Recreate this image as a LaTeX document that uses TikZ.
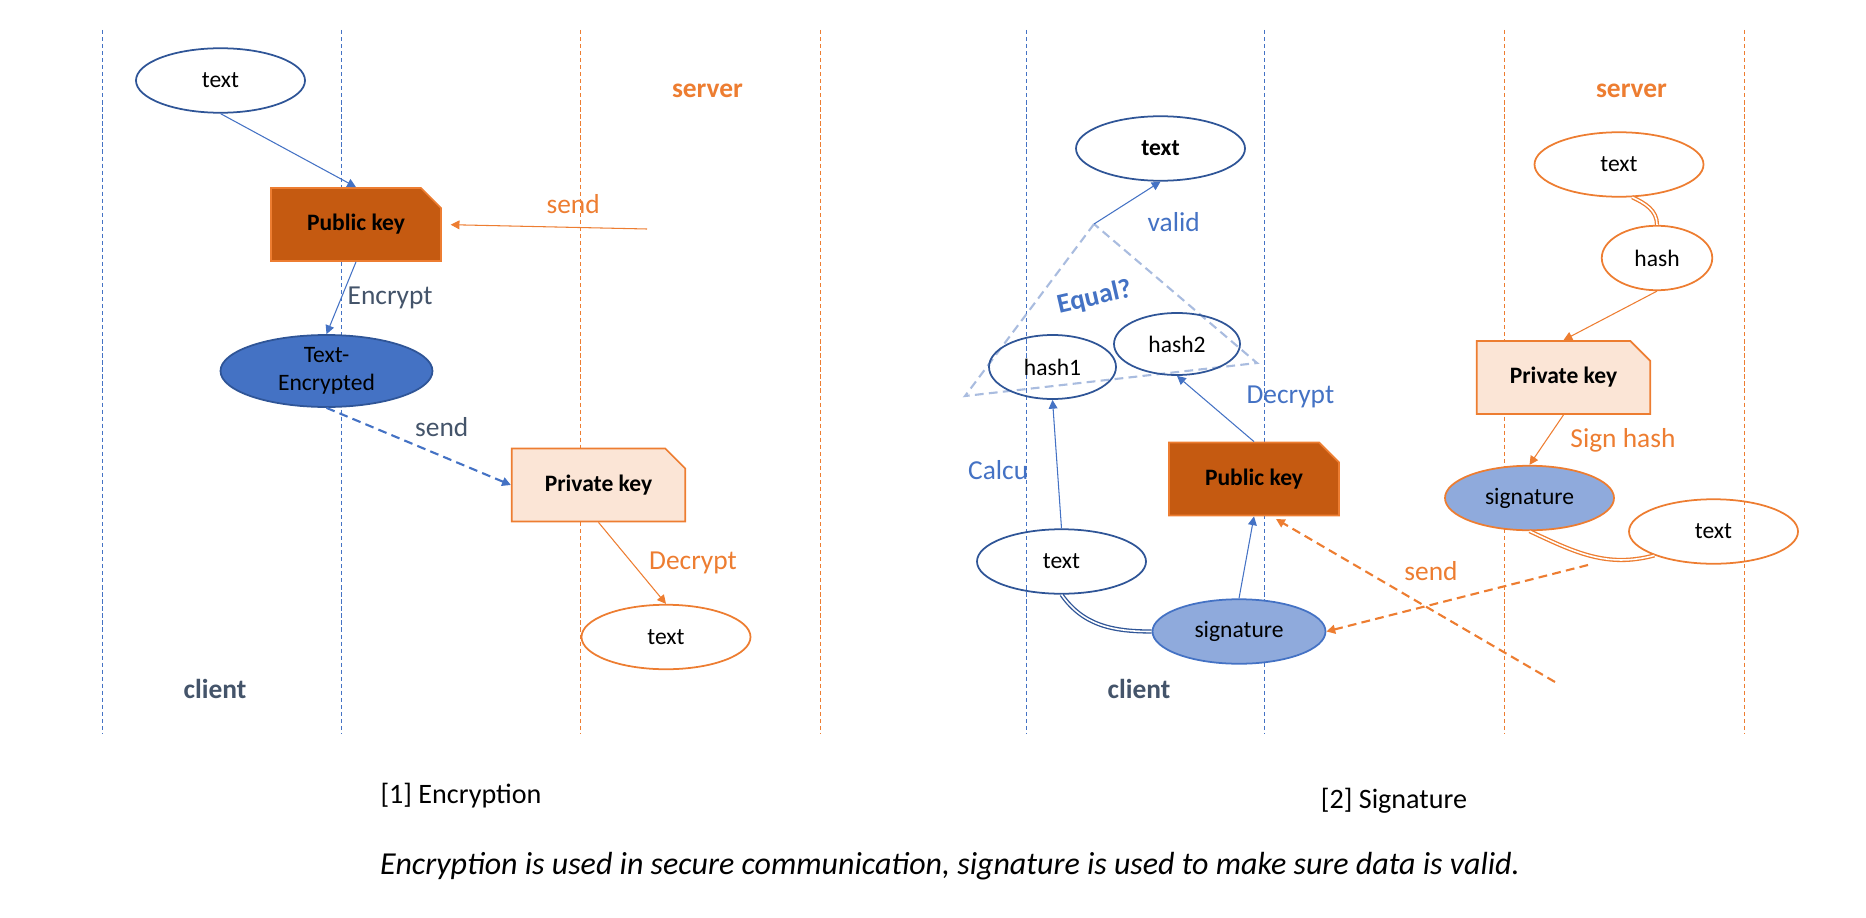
\documentclass[tikz,border=0pt]{standalone}
\usepackage{fontspec}
\setmainfont{Carlito}
\usetikzlibrary{arrows.meta,shapes.geometric,shapes.misc,positioning}

\definecolor{offblue}{HTML}{4472C4}
\definecolor{navy}{HTML}{2F5597}
\definecolor{offorange}{HTML}{ED7D31}
\definecolor{keybrown}{HTML}{C55A11}
\definecolor{peach}{HTML}{FBE5D6}
\definecolor{sigblue}{HTML}{8FAADC}
\definecolor{slate}{HTML}{44546A}
\definecolor{eqgrey}{HTML}{A9BCDF}

\newcommand\nodesize{\fontsize{13.4}{16}\selectfont}
\newcommand\lblsize{\fontsize{15.6}{18}\selectfont}

\tikzset{
  lane/.style={line width=0.5pt, dash pattern=on 2.4pt off 1.6pt},
  bub/.style={ellipse, draw=navy, line width=1pt, minimum width=3.38cm, minimum height=1.29cm, inner sep=0pt, font=\nodesize},
  obub/.style={bub, draw=offorange},
  keybox/.style={chamfered rectangle, chamfered rectangle corners=north east, chamfered rectangle sep=0.2cm,
    minimum width=3.4cm, minimum height=1.46cm, inner sep=0pt, line width=1pt, draw=offorange, font=\nodesize\bfseries},
  pubkey/.style={keybox, fill=keybrown},
  privkey/.style={keybox, fill=peach, minimum width=3.47cm},
  link/.style={-{Triangle[length=5pt,width=5pt]}, line width=0.6pt},
  post/.style={link, line width=1.2pt, dash pattern=on 5pt off 3pt},
  twin/.style={double=white, double distance=0.9pt, line width=0.75pt},
  lbl/.style={font=\lblsize},
  side/.style={font=\lblsize\bfseries},
  caption/.style={font=\fontsize{16}{19}\selectfont},
}

\begin{document}
\begin{tikzpicture}
\useasboundingbox (0,0) rectangle (37.32,-18.36);
% lanes
\foreach \x in {2.04,6.82,20.52,25.28} \draw[lane,offblue] (\x,-0.6) -- (\x,-14.66);
\foreach \x in {11.6,16.4,30.08,34.88} \draw[lane,offorange] (\x,-0.6) -- (\x,-14.66);

% [1] encryption
\node[side, text=slate] (cli1) at (4.3,-13.78) {client};
\node[side, text=offorange] (srv1) at (14.15,-1.81) {server};
\node[bub] (plain1) at (4.41,-1.61) {text};
\node[pubkey] (pub1) at (7.12,-4.49) {Public key};
\node[bub, fill=offblue, minimum width=4.24cm, minimum height=1.44cm, align=center] (enc1) at (6.53,-7.42) {Text-\\Encrypted};
\node[privkey] (priv1) at (11.97,-9.7) {Private key};
\node[obub] (dec1) at (13.32,-12.74) {text};
\coordinate (req1) at (12.94,-4.58);

\draw[link, offblue] (plain1.south) -- (pub1.north);
\draw[link, offorange, shorten >=5pt] (req1) -- node[lbl, pos=0.36, above=4pt, text=offorange] {send} (pub1.east);
\draw[link, offblue] (pub1.south) -- node[lbl, midway, right, text=slate] {Encrypt} (enc1.north);
\draw[post, offblue] (enc1.south) -- node[lbl, pos=0.45, above right=-1pt, text=slate] {send} (priv1.west);
\draw[link, offorange] (priv1.south) -- node[lbl, midway, right=6pt, text=offorange] {Decrypt} (dec1.north);

% [2] signature
\node[side, text=slate] (cli2) at (22.78,-13.78) {client};
\node[side, text=offorange] (srv2) at (32.63,-1.82) {server};
\node[bub, font=\nodesize\bfseries] (ok2) at (23.21,-2.97) {text};
\coordinate (eqTop) at (21.88,-4.48);
\coordinate (eqLeft) at (19.3,-7.92);
\coordinate (eqRight) at (25.14,-7.26);
\draw[eqgrey, line width=1.2pt, dash pattern=on 5pt off 3pt] (eqTop) -- (eqLeft) -- (eqRight) -- cycle;
\node[side, text=offblue, rotate=13] (eq2) at (21.89,-5.95) {Equal?};
\node[bub, minimum width=2.54cm, minimum height=1.28cm] (hashA) at (21.05,-7.34) {hash1};
\node[bub, minimum width=2.52cm, minimum height=1.24cm] (hashB) at (23.54,-6.88) {hash2};
\node[bub] (plain2) at (21.23,-11.23) {text};
\node[pubkey] (pub2) at (25.08,-9.58) {Public key};
\node[bub, fill=sigblue, draw=offblue, minimum width=3.46cm] (sig2) at (24.78,-12.63) {signature};
\node[obub] (srvtext) at (32.38,-3.29) {text};
\node[obub, minimum width=2.21cm] (srvhash) at (33.14,-5.16) {hash};
\node[privkey] (priv2) at (31.27,-7.55) {Private key};
\node[obub, fill=sigblue] (srvsig) at (30.59,-9.96) {signature};
\node[obub] (srvcopy) at (34.27,-10.63) {text};
\coordinate (out2) at (31.76,-11.3);
\coordinate (out3) at (31.1,-13.64);

\draw[link, offblue] (eqTop) -- node[lbl, below right=2pt and 8pt, text=offblue] {valid} (ok2.south);
\draw[link, offblue] (plain2.north) -- node[lbl, pos=0.45, left=13pt, text=offblue] {Calcu} (hashA.south);
\draw[link, offblue] (pub2.north) -- node[lbl, midway, above right=-3pt and 14pt, text=offblue] {Decrypt} (hashB.south);
\draw[link, offblue] (sig2.north) -- (pub2.south);
\draw[twin, navy] (plain2.south) to[out=-55, in=180] (sig2.west);
\draw[twin, offorange] (srvtext.-68) to[out=-25, in=90] (srvhash.north);
\draw[link, offorange] (srvhash.south) -- (priv2.north);
\draw[link, offorange] (priv2.south) -- node[lbl, midway, right=10pt, text=offorange] {Sign hash} (srvsig.north);
\draw[twin, offorange] (srvsig.south) to[out=-25, in=195] (srvcopy.-158);
\draw[post, offorange] (out2) -- node[lbl, pos=0.6, above=10pt, text=offorange] {send} (sig2.east);
\draw[post, offorange, shorten >=3pt] (out3) -- (pub2.-65);

% captions
\node[caption] (cap1) at (9.22,-15.92) {[1] Encryption};
\node[caption] (cap2) at (27.88,-16.02) {[2] Signature};
\node[caption, font=\fontsize{18.2}{21}\selectfont\itshape] (note) at (19.0,-17.32) {Encryption is used in secure communication, signature is used to make sure data is valid.};
\end{tikzpicture}
\end{document}
